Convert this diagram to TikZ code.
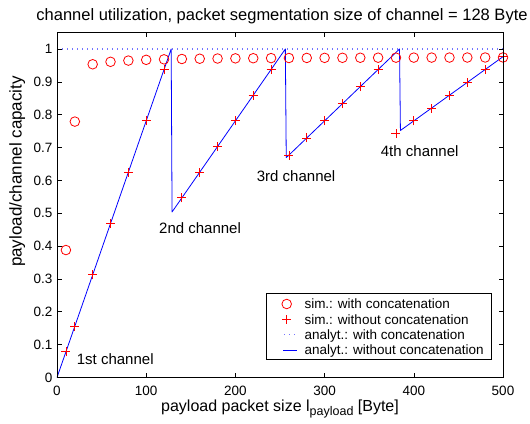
\documentclass[tikz,border=0pt]{standalone}
\usepackage{fontspec}
\setmainfont{Liberation Sans}
\definecolor{dotblue}{rgb}{0.45,0.45,1}
\tikzset{
  axisframe/.style={line width=0.8pt, black},
  tickmark/.style={line width=0.6pt, black},
  ticklabel/.style={font=\fontsize{13.5}{15}\selectfont, inner sep=0pt, text depth=0pt},
  simcirc/.style={red, line width=0.8pt},
  simplus/.style={red, line width=0.8pt},
  analytsolid/.style={blue, line width=0.8pt, line join=round},
  analytdot/.style={dotblue, line width=1.1pt, dash pattern=on 1.1pt off 3.9pt},
  chanlabel/.style={font=\fontsize{15}{17}\selectfont, anchor=west, inner sep=0pt, text depth=0pt},
  legendtext/.style={font=\fontsize{13.5}{15}\selectfont, anchor=west, inner sep=0pt, text depth=0pt},
  pluspic/.pic={\draw[simplus] (-4.5pt,0) -- (4.5pt,0) (0,-4.5pt) -- (0,4.5pt);},
}
\begin{document}
\begin{tikzpicture}[x=1pt,y=1pt]
\useasboundingbox (0,0) rectangle (530,423);
\fill[white] (0,0) rectangle (530,423);

% data area: x in Byte, y as fraction of channel capacity
\begin{scope}[shift={(57,45.5)}, x=0.892pt, y=328.5pt]
  % analytical, with concatenation
  \draw[analytdot] (0,1) -- (500,1);
  % analytical, without concatenation (saw-tooth over 128-Byte segments)
  \draw[analytsolid] (0,0) -- (128,1) -- (129,0.50390625) -- (256,1)
        -- (257,0.66927) -- (384,1) -- (385,0.75195) -- (500,0.9765625);
  % simulation, with concatenation
  \draw[simcirc] (10,0.388) circle[radius=4.8pt] (20,0.779) circle[radius=4.8pt];
  \foreach \xv in {40,60,...,500}
    \draw[simcirc] (\xv,{0.976-0.9/\xv}) circle[radius=4.8pt];
  % simulation, without concatenation
  \foreach \xv/\seg in {10/128,20/128,40/128,60/128,80/128,100/128,120/128,
                        140/256,160/256,180/256,200/256,220/256,240/256,
                        260/384,280/384,300/384,320/384,340/384,360/384,
                        380/512,400/512,420/512,440/512,460/512,480/512,500/512}
    \pic at (\xv,{\xv/\seg}) {pluspic};
  % frame and ticks
  \draw[axisframe] (0,0) rectangle (500,1.05);
  \foreach \xv in {0,100,...,500} {
    \draw[tickmark] (\xv,0) -- ++(0,4.5pt) (\xv,1.05) -- ++(0,-4.5pt);
    \node[ticklabel, yshift=-13.5pt] (xt\xv) at (\xv,0) {\xv};
  }
  \foreach \yv/\lab in {0/0,0.1/0.1,0.2/0.2,0.3/0.3,0.4/0.4,0.5/0.5,
                        0.6/0.6,0.7/0.7,0.8/0.8,0.9/0.9,1/1} {
    \draw[tickmark] (0,\yv) -- ++(4.5pt,0) (500,\yv) -- ++(-4.5pt,0);
    \node[ticklabel, anchor=east, xshift=-4.5pt] at (0,\yv) {\lab};
  }
\end{scope}

% channel annotations
\node[chanlabel] (ch1) at (76.7,63.7) {1st channel};
\node[chanlabel] (ch2) at (159,194.7) {2nd channel};
\node[chanlabel] (ch3) at (256.7,247) {3rd channel};
\node[chanlabel] (ch4) at (380.7,272.3) {4th channel};

% legend
\draw[line width=0.8pt, fill=white] (266,64) rectangle (491.7,129.7);
\draw[simcirc] (286.7,119) circle[radius=4.8pt];
\node[legendtext] (lg1) at (304.3,119) {sim.: with concatenation};
\pic at (286.7,103.7) {pluspic};
\node[legendtext] (lg2) at (304.3,103.7) {sim.: without concatenation};
\draw[analytdot] (284,88.4) -- (297,88.4);
\node[legendtext] (lg3) at (304.3,88.4) {analyt.: with concatenation};
\draw[analytsolid] (283.3,73) -- (296.7,73);
\node[legendtext] (lg4) at (304.3,73) {analyt.: without concatenation};

% title and axis labels
\node[font=\fontsize{16.5}{19}\selectfont, inner sep=0pt, text depth=0pt] (title) at (282,408)
  {channel utilization, packet segmentation size of channel = 128 Byte};
\node[font=\fontsize{16}{18}\selectfont, anchor=base, inner sep=0pt] (xlab) at (280,12)
  {payload packet size l\raisebox{-4.5pt}{\fontsize{12.5}{14}\selectfont payload} [Byte]};
\node[font=\fontsize{17}{19}\selectfont, rotate=90, anchor=base, inner sep=0pt] (ylab) at (21.5,251.5)
  {payload/channel capacity};
\end{tikzpicture}
\end{document}
